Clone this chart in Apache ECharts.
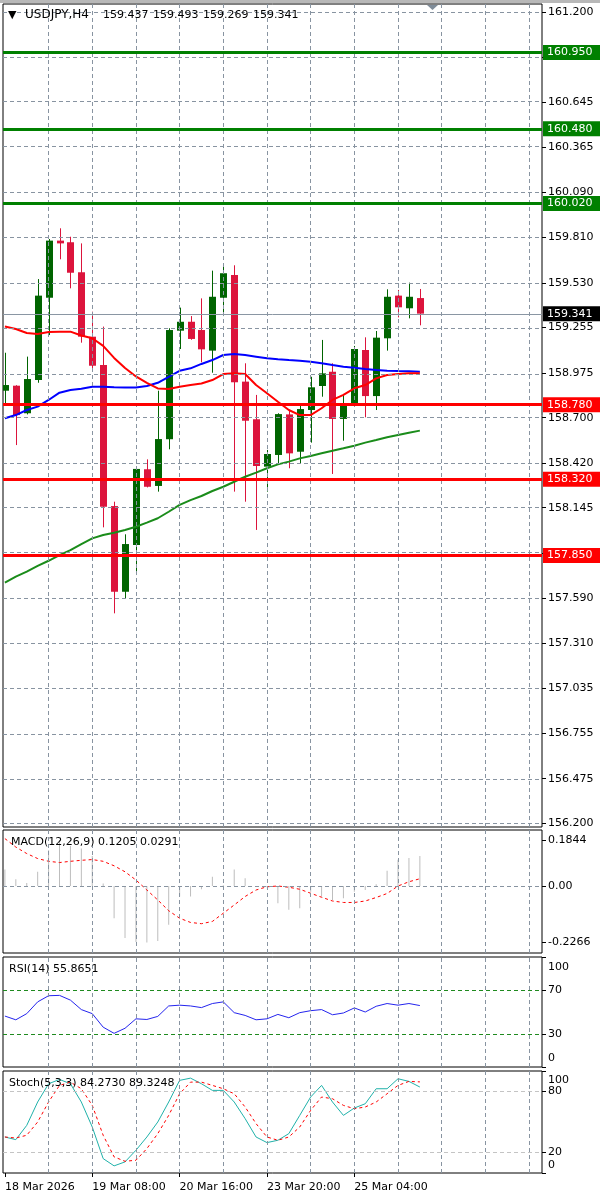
<!DOCTYPE html>
<html><head><meta charset="utf-8">
<script src="https://cdn.jsdelivr.net/npm/echarts@6/dist/echarts.min.js"></script>
<style>html,body{margin:0;padding:0;background:#fff}#c{width:600px;height:1196px}</style>
</head><body><div id="c"></div>
<script>
// ---------- DATA ----------
const opens  = [158.866,158.897,158.727,158.932,159.439,159.791,159.781,159.596,159.199,159.024,158.155,157.627,157.915,158.382,158.279,158.567,159.236,159.291,159.240,159.113,159.439,159.579,158.922,158.690,158.398,158.470,158.720,158.490,158.747,158.895,158.983,158.692,158.784,159.117,158.833,159.189,159.452,159.374,159.437];
const highs  = [159.100,158.900,159.076,159.554,159.801,159.867,159.815,159.774,159.353,159.261,158.182,157.981,158.390,158.443,158.866,159.251,159.378,159.326,159.435,159.606,159.647,159.639,159.035,158.840,158.501,158.727,158.747,158.788,158.952,159.179,159.035,158.840,159.142,159.195,159.234,159.491,159.487,159.532,159.493];
const lows   = [158.778,158.531,158.720,158.915,159.209,159.676,159.497,159.162,158.994,158.024,157.494,157.587,157.730,158.270,158.244,158.505,159.123,159.180,159.041,158.977,159.326,158.244,158.182,158.008,158.244,158.419,158.388,158.419,158.546,158.829,158.353,158.558,158.778,158.702,158.747,159.113,159.318,159.312,159.269];
const closes = [158.901,158.716,158.938,159.452,159.791,159.774,159.593,159.199,159.020,158.151,157.627,157.921,158.384,158.274,158.568,159.240,159.291,159.185,159.121,159.445,159.590,158.918,158.681,158.402,158.476,158.722,158.480,158.753,158.887,158.973,158.692,158.788,159.123,158.833,159.193,159.445,159.380,159.445,159.341];

const maRed   = [159.262,159.246,159.222,159.215,159.228,159.230,159.230,159.206,159.189,159.142,159.068,159.006,158.954,158.914,158.880,158.877,158.891,158.901,158.910,158.932,158.969,158.973,158.969,158.901,158.850,158.798,158.747,158.716,158.716,158.758,158.809,158.840,158.881,158.901,158.942,158.963,158.969,158.973,158.973];
const maBlue  = [158.696,158.716,158.747,158.768,158.809,158.854,158.870,158.878,158.891,158.891,158.887,158.886,158.886,158.895,158.915,158.952,158.989,159.004,159.031,159.055,159.086,159.092,159.086,159.076,159.066,159.060,159.055,159.051,159.045,159.035,159.024,159.014,159.008,159.000,158.994,158.989,158.987,158.986,158.983];
const maGreen = [157.683,157.720,157.751,157.786,157.818,157.853,157.884,157.921,157.956,157.977,157.991,158.008,158.028,158.053,158.080,158.120,158.162,158.192,158.217,158.248,158.274,158.305,158.336,158.361,158.388,158.412,158.429,158.449,158.464,158.480,158.496,158.511,158.527,158.546,158.562,158.579,158.593,158.607,158.620];

const macdHist   = [0.066,0.027,0.012,0.057,0.143,0.184,0.160,0.150,0.120,0.010,-0.129,-0.208,-0.224,-0.2266,-0.220,-0.155,-0.042,-0.042,-0.013,0.037,0.003,0.066,0.031,0.000,-0.005,-0.069,-0.095,-0.089,-0.023,-0.042,-0.056,-0.049,-0.023,-0.016,0.007,0.061,0.105,0.112,0.1205];
const macdSignal = [0.190,0.156,0.130,0.110,0.099,0.094,0.099,0.103,0.106,0.099,0.081,0.057,0.024,-0.016,-0.056,-0.099,-0.129,-0.146,-0.151,-0.142,-0.109,-0.076,-0.042,-0.016,-0.003,0.000,-0.005,-0.013,-0.029,-0.045,-0.060,-0.066,-0.066,-0.060,-0.046,-0.030,0.000,0.017,0.0291];

const rsi    = [46.3,42.9,48.5,59.2,64.8,65.1,60.8,52.2,48.5,36.2,30.6,35.2,43.8,43.2,46.0,55.5,56.2,55.5,54.0,57.7,59.2,49.4,46.9,42.9,43.8,47.8,44.8,49.4,51.2,52.2,47.5,49.1,53.7,50.0,55.2,57.7,56.2,57.7,55.8651];
const stochK = [35.3,32.7,46.7,69.6,87.5,91.7,87.5,69.6,45.1,14.1,7.0,10.9,22.3,35.3,50.0,69.6,90.8,93.0,87.5,81.0,81.0,69.6,53.3,35.3,29.8,32.1,38.6,56.5,74.5,85.9,69.6,56.5,63.7,67.9,82.6,82.6,92.4,89.8,84.273];
const stochD = [35.3,34.3,37.0,50.0,69.6,85.9,89.1,82.6,66.3,37.0,15.8,11.5,12.5,23.9,38.6,56.5,77.7,89.1,89.1,85.9,82.6,77.7,64.7,48.4,35.3,32.1,35.3,45.1,61.4,74.5,72.8,66.3,63.0,64.7,69.6,77.7,85.9,89.8,89.3248];

const priceTicks = [161.200,160.920,160.645,160.365,160.090,159.810,159.530,159.255,158.975,158.700,158.420,158.145,157.865,157.590,157.310,157.035,156.755,156.475,156.200];
const resistanceLevels = [160.950,160.480,160.020];
const supportLevels    = [158.780,158.320,157.850];
const lastPrice = 159.341;
const macdTicks  = [0.1844,0,-0.2266];
const rsiTicks   = [0,30,70,100];
const rsiLevels  = [70,30];
const stochTicks = [0,20,80,100];
const stochLevels= [80,20];
const timeLabelBars = [0,8,16,24,32];
const timeLabels = ['18 Mar 2026','19 Mar 08:00','20 Mar 16:00','23 Mar 20:00','25 Mar 04:00'];

const headerSymbol = '\u25BC';
const headerName = 'USDJPY,H4';
const headerValues = ['159.437','159.493','159.269','159.341'];
const macdText  = 'MACD(12,26,9) 0.1205 0.0291';
const rsiText   = 'RSI(14) 55.8651';
const stochText = 'Stoch(5,3,3) 84.2730 89.3248';

// ---------- LAYOUT / STYLE ----------
const FONT = 'DejaVu Sans';
const XMIN = -0.174, XMAX = 49.185;
const YMIN = 156.1772, YMAX = 161.2493;
const GRID_COLOR = '#8894a1';
const BULL = '#006400', BEAR = '#DC143C';
const bars = opens.map((_, i) => i);
const gridBars = []; for (let b = 4; b < XMAX; b += 4) gridBars.push(b);

const chart = echarts.init(document.getElementById('c'), null, {renderer:'canvas', width:600, height:1196});

const gridDefs = [
  {top:4, height:823},
  {top:830, height:123},
  {top:957, height:110},
  {top:1071, height:102}
].map(g => Object.assign({left:3, right:58, show:true, borderColor:'#000', borderWidth:1, backgroundColor:'#fff'}, g));

const lblBase = {fontSize:11, fontFamily:FONT, color:'#000'};

const xAxes = [0,1,2,3].map(k => ({
  type:'value', gridIndex:k, min:XMIN, max:XMAX,
  axisLine:{show:false, onZero:false}, splitLine:{show:false},
  axisTick: k===3 ? {show:true, customValues:timeLabelBars, length:4, lineStyle:{color:'#000'}} : {show:false},
  axisLabel: k===3 ? Object.assign({show:true, customValues:timeLabelBars, align:'left', margin:9,
      formatter: v => { const j = timeLabelBars.indexOf(Math.round(v)); return j >= 0 ? timeLabels[j] : ''; }}, lblBase) : {show:false}
}));

function yAxisDef(k, min, max, ticks, fmt, rich) {
  return {
    type:'value', gridIndex:k, position:'right', min, max,
    axisLine:{show:false, onZero:false}, splitLine:{show:false},
    axisTick:{show:true, customValues:ticks, length:4, lineStyle:{color:'#000'}},
    axisLabel:Object.assign({show:true, customValues:ticks, margin:6, formatter:fmt, rich:rich||{}}, lblBase)
  };
}
const yAxes = [
  yAxisDef(0, YMIN, YMAX, priceTicks, v => v.toFixed(3)),
  yAxisDef(1, -0.2684, 0.2244, macdTicks, v => Math.abs(v) < 1e-9 ? '0.00' : v.toFixed(4)),
  yAxisDef(2, 0, 100, rsiTicks, v => v === 100 ? '{t|100}' : v === 0 ? '{b|0}' : String(v),
    {t:Object.assign({padding:[20,0,0,0]}, lblBase), b:Object.assign({padding:[0,0,18,0]}, lblBase)}),
  yAxisDef(3, 0, 100, stochTicks, v => v === 100 ? '{t|100}' : v === 0 ? '{b|0}' : String(v),
    {t:Object.assign({padding:[18,0,0,0]}, lblBase), b:Object.assign({padding:[0,0,16,0]}, lblBase)})
];

const series = [];
// grid lines
[0,1,2,3].forEach(k => {
  const data = gridBars.map(b => ({xAxis:b}));
  if (k === 0) priceTicks.forEach(v => data.push({yAxis:v}));
  if (k === 1) data.push({yAxis:0});
  if (k === 2) rsiLevels.forEach(v => data.push({yAxis:v, lineStyle:{color:'#1f8a1f', type:[4,3], width:1}}));
  if (k === 3) stochLevels.forEach(v => data.push({yAxis:v, lineStyle:{color:'#c4c4c4', type:[4,3], width:1}}));
  series.push({type:'line', xAxisIndex:k, yAxisIndex:k, data:[], silent:true, z:1, clip:false,
    markLine:{silent:true, symbol:['none','none'], label:{show:false}, animation:false,
      lineStyle:{color:GRID_COLOR, type:[4,3], width:1}, data}});
});

// candles
series.push({
  type:'custom', xAxisIndex:0, yAxisIndex:0, z:3, clip:true,
  data: bars.map(i => [i, opens[i], closes[i], lows[i], highs[i]]),
  renderItem: (params, api) => {
    const x = api.value(0), o = api.value(1), c = api.value(2), l = api.value(3), h = api.value(4);
    const pO = api.coord([x, o]), pC = api.coord([x, c]), pL = api.coord([x, l]), pH = api.coord([x, h]);
    const col = c >= o ? BULL : BEAR;
    const w = 7;
    const cx = Math.round(pO[0]) + 0.5;
    return {type:'group', children:[
      {type:'line', shape:{x1:cx, y1:pL[1], x2:cx, y2:pH[1]}, style:{stroke:col, lineWidth:1}},
      {type:'rect', shape:{x:cx - w/2, y:Math.min(pO[1], pC[1]), width:w, height:Math.max(1, Math.abs(pO[1] - pC[1]))}, style:{fill:col}}
    ]};
  }
});

function lineS(k, arr, color, width, type, z) {
  return {type:'line', xAxisIndex:k, yAxisIndex:k, data:bars.map(i => [i, arr[i]]), showSymbol:false, symbol:'none',
    silent:true, z:z||4, lineStyle:{color, width, type:type||'solid'}, itemStyle:{color}};
}
series.push(lineS(0, maGreen, '#1a8c1a', 2));
series.push(lineS(0, maBlue, '#0000FF', 2));
series.push(lineS(0, maRed, '#FF0000', 2));

// level lines + price labels
const levelItem = (v, color, width, bg) => ({yAxis:v, lineStyle:{color, width, type:'solid'},
  label:{backgroundColor:bg || color, formatter:v.toFixed(3)}});
const levelData = [
  ...resistanceLevels.map(v => levelItem(v, '#008000', 3)),
  ...supportLevels.map(v => levelItem(v, '#FF0000', 3)),
  levelItem(lastPrice, '#8a96a3', 1, '#000000')
];
series.push({type:'line', xAxisIndex:0, yAxisIndex:0, data:[], z:6, clip:false, silent:true,
  markLine:{silent:true, symbol:['none','none'], animation:false,
    label:{show:true, position:'end', distance:1,
      color:'#fff', fontSize:11, fontFamily:FONT, padding:[2,8,1,4], lineHeight:12},
    data:levelData}});

// MACD
series.push({type:'bar', xAxisIndex:1, yAxisIndex:1, data:bars.map(i => [i, macdHist[i]]), barWidth:1, z:3, silent:true,
  itemStyle:{color:'#BDBDBD'}});
series.push(lineS(1, macdSignal, '#FF0000', 1, [3,3]));
// RSI
series.push(lineS(2, rsi, '#2424EE', 1));
// Stoch
series.push(lineS(3, stochK, '#20B2AA', 1));
series.push(lineS(3, stochD, '#FF0000', 1, [3,3]));

const titleStyle = {fontSize:11, fontWeight:'normal', color:'#000', fontFamily:FONT};
const headerRich = {
  s:{width:17, fontSize:11, fontFamily:FONT, color:'#000'},
  t:{width:78, fontSize:12, fontFamily:FONT, color:'#000'},
  n:{width:50, fontSize:11, fontFamily:FONT, color:'#000'}
};
const headerStr = '{s|' + headerSymbol + '}{t|' + headerName + '}' + headerValues.map(v => '{n|' + v + '}').join('');

chart.setOption({
  animation:false,
  backgroundColor:'#fff',
  grid:gridDefs,
  xAxis:xAxes,
  yAxis:yAxes,
  title:[
    {text:headerStr, left:8, top:9, padding:0, textStyle:Object.assign({rich:headerRich}, titleStyle)},
    {text:macdText, left:11, top:837, padding:0, textStyle:titleStyle},
    {text:rsiText, left:9, top:964, padding:0, textStyle:titleStyle},
    {text:stochText, left:9, top:1078, padding:0, textStyle:titleStyle}
  ],
  graphic:[
    {type:'rect', left:0, top:0, shape:{width:600, height:3}, style:{fill:'#b8b8b8'}, z:100},
    {type:'polygon', shape:{points:[[427,5],[438,5],[432.5,10]]}, style:{fill:'#7f8c99'}, z:100}
  ],
  series
});
</script>
</body></html>
